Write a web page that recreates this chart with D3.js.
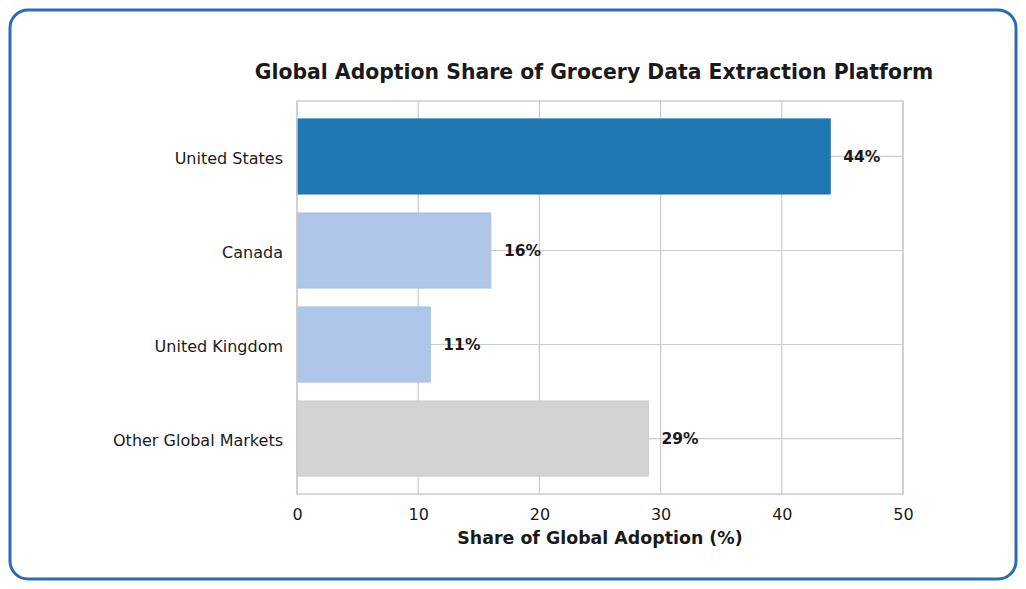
<!DOCTYPE html>
<html>
<head>
<meta charset="utf-8">
<script src="https://cdn.jsdelivr.net/npm/d3@7"></script>
<style>
  body { margin: 0; background: #fff; }
  text { font-family: "DejaVu Sans", sans-serif; fill: #1a1a1a; }
</style>
</head>
<body>
<div id="chart"></div>
<script>
const regions = ['United States', 'Canada', 'United Kingdom', 'Other Global Markets']
const shares = [44, 16, 11, 29]
const barColors = ['#1f77b4', '#aec7e8', '#aec7e8', '#d3d3d3']
const xTicks = [0, 10, 20, 30, 40, 50]

const W = 1026, H = 589
const plot = {left: 297, right: 903, top: 101, bottom: 494}

const svg = d3.select('#chart')
  .append('svg')
  .attr('width', W)
  .attr('height', H)

// rounded blue frame
svg.append('rect')
  .attr('x', 10).attr('y', 10)
  .attr('width', W - 20).attr('height', H - 20)
  .attr('rx', 18)
  .attr('fill', '#fff')
  .attr('stroke', '#2b6cb0')
  .attr('stroke-width', 3)

const x = d3.scaleLinear().domain([0, 50]).range([plot.left, plot.right])
// bar index -> pixel, with matplotlib style margins
const y = d3.scaleLinear().domain([-0.59, 3.59]).range([plot.top, plot.bottom])
const barH = y(0.4) - y(-0.4)

// grid
const g = svg.append('g')
g.selectAll('.vgrid')
  .data(xTicks)
  .enter()
  .append('line')
  .attr('x1', d => x(d)).attr('x2', d => x(d))
  .attr('y1', plot.top).attr('y2', plot.bottom)
  .attr('stroke', '#cccccc').attr('stroke-width', 1.2)
g.selectAll('.hgrid')
  .data(regions)
  .enter()
  .append('line')
  .attr('x1', plot.left).attr('x2', plot.right)
  .attr('y1', (d, i) => y(i)).attr('y2', (d, i) => y(i))
  .attr('stroke', '#cccccc').attr('stroke-width', 1.2)

// bars
g.selectAll('.bar')
  .data(shares)
  .enter()
  .append('rect')
  .attr('class', 'bar')
  .attr('x', x(0))
  .attr('y', (d, i) => y(i) - barH / 2)
  .attr('width', d => x(d) - x(0))
  .attr('height', barH)
  .attr('fill', (d, i) => barColors[i])
  .attr('stroke', (d, i) => d3.color(barColors[i]).darker(0.15))
  .attr('stroke-width', 0.8)

// spines
svg.append('rect')
  .attr('x', plot.left).attr('y', plot.top)
  .attr('width', plot.right - plot.left).attr('height', plot.bottom - plot.top)
  .attr('fill', 'none')
  .attr('stroke', '#cccccc').attr('stroke-width', 1.5)

// value labels
g.selectAll('.val')
  .data(shares)
  .enter()
  .append('text')
  .attr('x', d => x(d) + 13)
  .attr('y', (d, i) => y(i))
  .attr('dy', '0.35em')
  .attr('font-size', 15.5)
  .attr('font-weight', 'bold')
  .text(d => d + '%')

// x axis
const xAxis = svg.append('g')
  .attr('transform', `translate(0,${plot.bottom})`)
  .call(d3.axisBottom(x).tickValues(xTicks).tickSize(0).tickPadding(15))
xAxis.select('.domain').remove()
xAxis.selectAll('text')
  .attr('font-size', 16)
  .attr('font-family', '"DejaVu Sans", sans-serif')
  .attr('fill', '#1a1a1a')

// y axis
const yAxis = svg.append('g')
  .attr('transform', `translate(${plot.left},0)`)
  .call(d3.axisLeft(y).tickValues(d3.range(regions.length)).tickFormat(i => regions[i]).tickSize(0).tickPadding(14))
yAxis.select('.domain').remove()
yAxis.selectAll('text')
  .attr('font-size', 16)
  .attr('dy', '0.42em')
  .attr('font-family', '"DejaVu Sans", sans-serif')
  .attr('fill', '#1a1a1a')

// title and axis label
svg.append('text')
  .attr('x', 594)
  .attr('y', 79)
  .attr('text-anchor', 'middle')
  .attr('font-size', 20.4)
  .attr('font-weight', 'bold')
  .text('Global Adoption Share of Grocery Data Extraction Platform')

svg.append('text')
  .attr('x', (plot.left + plot.right) / 2)
  .attr('y', 544)
  .attr('text-anchor', 'middle')
  .attr('font-size', 17.4)
  .attr('font-weight', 'bold')
  .text('Share of Global Adoption (%)')
</script>
</body>
</html>
